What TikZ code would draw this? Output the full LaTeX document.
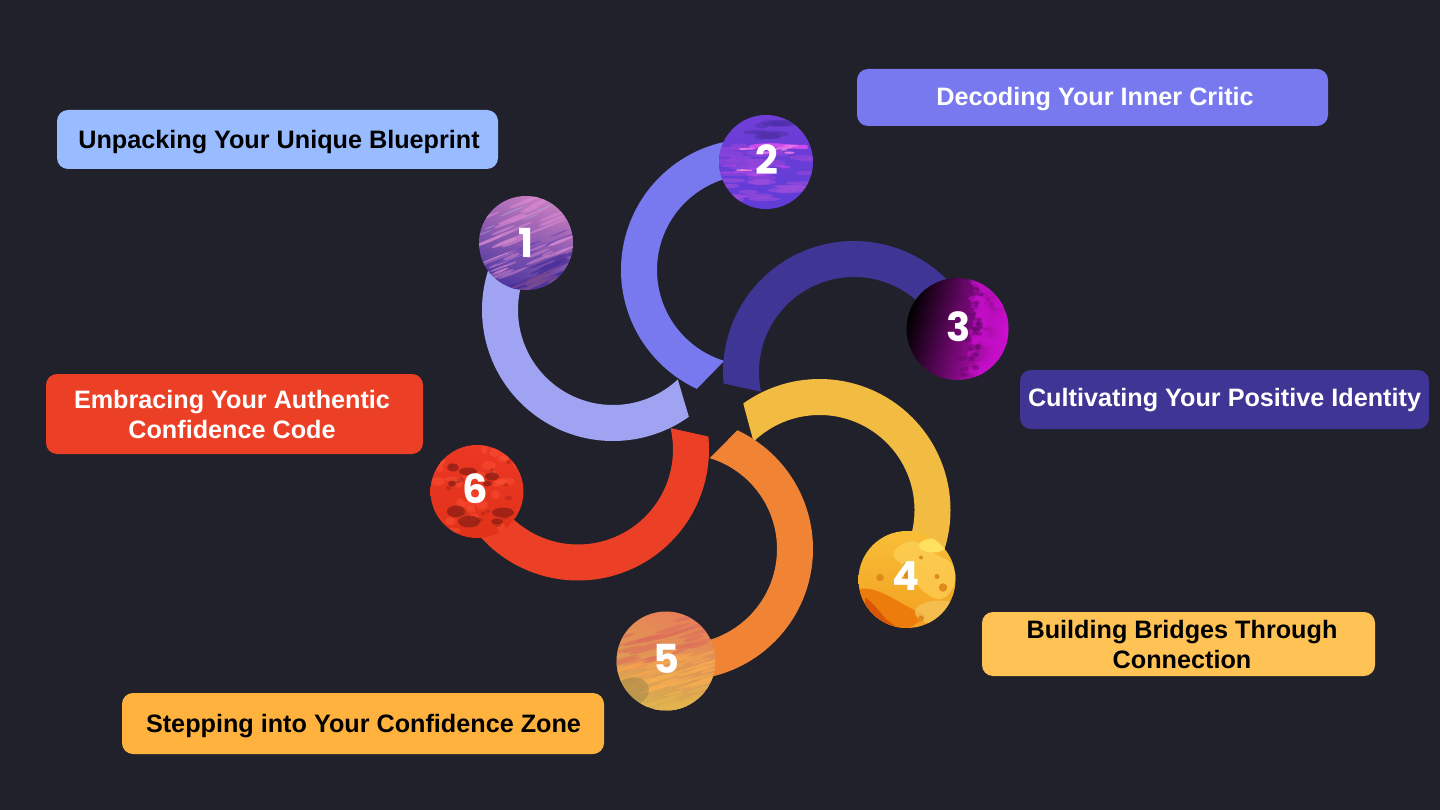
\documentclass[tikz,border=0pt]{standalone}
\usepackage{fontspec}
\setmainfont{Liberation Sans}
\newfontfamily\digitfont{Poppins}[UprightFont=* SemiBold,BoldFont=* Bold]
\definecolor{bgdark}{HTML}{20212B}
\definecolor{cA}{HTML}{A0A3F2}
\definecolor{cB}{HTML}{7879EE}
\definecolor{cC}{HTML}{3F3594}
\definecolor{cD}{HTML}{F2BB41}
\definecolor{cE}{HTML}{F18434}
\definecolor{cF}{HTML}{EB4026}
\definecolor{lA}{HTML}{99BBFF}
\definecolor{lD}{HTML}{FFC355}
\definecolor{lE}{HTML}{FFB33E}
% planet 1
\definecolor{aT}{HTML}{C77CC0}\definecolor{aM}{HTML}{B873BC}\definecolor{aB}{HTML}{4E37A0}
\definecolor{aS}{HTML}{D98AD0}\definecolor{aV}{HTML}{6A48B5}\definecolor{aD}{HTML}{4A2F9A}
\definecolor{aE}{HTML}{7A4A90}\definecolor{aG}{HTML}{A8A0C8}
% planet 2
\definecolor{bT}{HTML}{703ED6}\definecolor{bB}{HTML}{603CD7}\definecolor{bD}{HTML}{4E2FA8}
\definecolor{bP}{HTML}{CD4BEB}\definecolor{bQ}{HTML}{EB78EB}\definecolor{bM}{HTML}{9646DC}
\definecolor{bR}{HTML}{EB8CD7}\definecolor{bL}{HTML}{A550DC}
% planet 3
\definecolor{dM}{HTML}{140014}\definecolor{dR}{HTML}{D810D8}\definecolor{dS}{HTML}{C40EC8}\definecolor{dK}{HTML}{6A0870}
% planet 4
\definecolor{fT}{HTML}{F8BE37}\definecolor{fB}{HTML}{F2A020}\definecolor{fL}{HTML}{FFD75F}
\definecolor{fY}{HTML}{FFE15F}\definecolor{fO}{HTML}{EC7C0C}\definecolor{fD}{HTML}{D75505}
\definecolor{fP}{HTML}{F5C860}\definecolor{fS}{HTML}{E08A1C}
% planet 5
\definecolor{gT}{HTML}{E88058}\definecolor{gM}{HTML}{F09A4A}\definecolor{gB}{HTML}{D8AE50}
\definecolor{gA}{HTML}{DE6E5C}\definecolor{gC}{HTML}{F5A650}\definecolor{gD}{HTML}{FAB050}
\definecolor{gE}{HTML}{E4B44E}\definecolor{gF}{HTML}{8E7A48}
% planet 6
\definecolor{hT}{HTML}{EB3723}\definecolor{hB}{HTML}{E13219}\definecolor{hD}{HTML}{8C1E14}\definecolor{hL}{HTML}{FF5537}
\newcommand{\ringarc}[6]{%
  \fill[#6] plot[domain=#3:#5,samples=130] ({#1+95*cos(\x)},{#2+95*sin(\x)})
    -- plot[domain=#5:#4,samples=130] ({#1+131*cos(\x)},{#2+131*sin(\x)}) -- cycle;}
% count, rotation, max x radius, y radius, colour, opacity, band centre, band half height, half width
\newcommand{\specks}[9]{%
  \begin{scope}[rotate=#2]
  \foreach \i in {1,...,#1}{%
    \pgfmathsetmacro\spx{#9*rand}%
    \pgfmathsetmacro\spy{#7+#8*rand}%
    \pgfmathsetmacro\srx{#3*(.4+.6*rnd)}%
    \pgfmathsetmacro\sry{#4*(.5+.5*rnd)}%
    \fill[#5,opacity=#6] (\spx,\spy) ellipse [x radius=\srx,y radius=\sry];}
  \end{scope}}
\tikzset{
  lab/.style={rounded corners=11pt,inner sep=0pt},
  labtext/.style={align=center,inner sep=0pt,font=\bfseries\fontsize{25.2}{30}\selectfont},
  planet/.style={circle,inner sep=0pt,draw=none},
  numeral/.style={text=white,font=\digitfont\bfseries\fontsize{40}{40}\selectfont,inner sep=0pt}
}
\begin{document}
\begin{tikzpicture}[x=1pt,y=-1pt]
\pgfmathsetseed{4711}
\useasboundingbox (0,0) rectangle (1440,810);
\fill[bgdark] (0,0) rectangle (1440,810);

% rings
\ringarc{613}{310}{47}{54.6}{205}{cA}
\ringarc{752}{270}{107}{114.9}{280}{cB}
\ringarc{854}{372}{168}{175}{330}{cC}
\ringarc{819.5}{510}{226}{234.4}{385}{cD}
\ringarc{682}{549}{287}{295}{440}{cE}
\ringarc{578}{449.5}{-13}{-5.7}{150}{cF}

% planet 1
\node[planet,minimum size=94pt,shading=axis,top color=aT,middle color=aM,bottom color=aB,shading angle=-20] (p1) at (526,243) {};
\begin{scope}[shift={(p1)}]
\clip (0,0) circle (47);
\specks{26}{22}{22}{1.8}{aS}{.6}{-14}{28}{40}
\specks{5}{22}{14}{.8}{aG}{.7}{-30}{8}{40}
\specks{12}{22}{18}{1.2}{aV}{.7}{12}{9}{38}
\specks{14}{22}{16}{1.8}{aS}{.5}{15}{9}{36}
\specks{24}{22}{24}{2.2}{aD}{.7}{34}{12}{40}
\specks{14}{22}{20}{1.8}{aE}{.7}{40}{8}{40}
\end{scope}
\node[numeral] (n1) at (526.5,243) {1};

% planet 2
\node[planet,minimum size=94pt,top color=bT,bottom color=bB] (p2) at (766,162) {};
\begin{scope}[shift={(p2)}]
\clip (0,0) circle (47);
\specks{12}{0}{16}{3}{bD}{.5}{-32}{8}{24}
\specks{24}{0}{20}{3.5}{bM}{.6}{0}{16}{42}
\specks{16}{0}{18}{3}{bL}{.55}{30}{12}{36}
\draw[line width=4pt,line cap=round,draw=bP] (-15,-15) .. controls (5,-19) and (20,-15) .. (40,-15);
\specks{8}{0}{9}{1.2}{bQ}{.9}{-13}{4}{28}
\specks{5}{0}{7}{1.2}{bR}{.9}{8}{2}{30}
\specks{8}{0}{12}{1.5}{bP}{.5}{8}{6}{40}
\end{scope}
\node[numeral] (n2) at (767,159.5) {2};

% planet 3
\node[planet,minimum size=102pt,shading=axis,left color=black,middle color=dM,right color=dR,shading angle=75] (p3) at (957.5,329) {};
\begin{scope}[shift={(p3)}]
\clip (0,0) circle (51);
\begin{scope}[xshift=33pt]
\specks{110}{0}{7}{5}{dS}{.55}{0}{50}{19}
\end{scope}
\begin{scope}[xshift=12pt]
\specks{70}{0}{4}{3}{dK}{.5}{0}{48}{11}
\end{scope}
\end{scope}
\node[numeral] (n3) at (958.5,327) {3};

% planet 4
\node[planet,minimum size=97pt,top color=fT,bottom color=fB] (p4) at (907,579.5) {};
\begin{scope}[shift={(p4)}]
\clip (0,0) circle (48.5);
\fill[fL,opacity=.6] (-12,-30) .. controls (10,-50) and (20,-28) .. (35,-22) .. controls (55,-15) and (50,10) .. (38,18) .. controls (25,25) and (8,5) .. (0,-10) .. controls (-5,-18) and (-18,-20) .. cycle;
\fill[fY] (26,-34) ellipse [x radius=14,y radius=7];
\fill[fO] (-50,10) .. controls (-30,5) and (-12,22) .. (18,36) .. controls (15,42) and (5,45) .. (0,52) -- (-50,52) -- cycle;
\fill[fD] (-42,18) .. controls (-30,25) and (-25,40) .. (-12,46) -- (-42,46) -- cycle;
\fill[fP,opacity=.7] (32,33) ellipse [x radius=24,y radius=12];
\foreach \ex/\ey/\rr in {-27/-2/3.8,36/8/4.2,-1/-14/3,30/-3/2.5,14/-22/2,2/-4/5,14/39/3}{
  \fill[fS] (\ex,\ey) circle (\rr);}
\end{scope}
\node[numeral] (n4) at (906.5,576) {4};

% planet 5
\node[planet,minimum size=99pt,shading=axis,top color=gT,middle color=gM,bottom color=gB,shading angle=-15] (p5) at (666,661) {};
\begin{scope}[shift={(p5)}]
\clip (0,0) circle (49.5);
\specks{30}{16}{24}{2.2}{gA}{.6}{-20}{18}{42}
\specks{28}{16}{22}{1.8}{gC}{.6}{8}{16}{42}
\specks{24}{16}{22}{1.8}{gD}{.6}{24}{12}{42}
\specks{24}{16}{24}{2.2}{gE}{.65}{44}{8}{42}
\fill[gF,opacity=.4,rotate=16] (-42,20) ellipse [x radius=18,y radius=14];
\end{scope}
\node[numeral] (n5) at (666.5,659) {5};

% planet 6
\node[planet,minimum size=93pt,top color=hT,bottom color=hB] (p6) at (477,491.5) {};
\begin{scope}[shift={(p6)}]
\clip (0,0) circle (46.5);
\specks{30}{0}{8}{5}{hL}{.45}{0}{42}{42}
\foreach \ex/\ey/\rx/\ry in {-24/-24/6/4,-9/-20/9/4,15/-15/7/4,-21/20/9/6,-8/30/11/6,26/21/11/5,-25/-8/4/3,20/30/6/3,10/-8/4/3}{
  \fill[hD,opacity=.75] (\ex,\ey) ellipse [x radius=\rx,y radius=\ry];}
\specks{18}{0}{4}{2.5}{hD}{.35}{2}{32}{32}
\end{scope}
\node[numeral] (n6) at (475,489) {6};

% labels
\node[lab,fill=lA,minimum width=441pt,minimum height=59pt] (b1) at (277.5,139.5) {};
\node[labtext,text=black] (t1) at (279,142.5) {Unpacking Your Unique Blueprint};
\node[lab,fill=cB,minimum width=471pt,minimum height=57pt] (b2) at (1092.5,97.5) {};
\node[labtext,text=white] (t2) at (1095,99) {Decoding Your Inner Critic};
\node[lab,fill=cC,minimum width=409pt,minimum height=59pt] (b3) at (1224.5,399.5) {};
\node[labtext,text=white] (t3) at (1224.5,400) {Cultivating Your Positive Identity};
\node[lab,fill=lD,minimum width=393pt,minimum height=64pt] (b4) at (1178.5,644) {};
\node[labtext,text=black] (t4) at (1182,644) {Building Bridges Through\\Connection};
\node[lab,fill=lE,minimum width=482pt,minimum height=61pt] (b5) at (363,723.5) {};
\node[labtext,text=black] (t5) at (363.5,726) {Stepping into Your Confidence Zone};
\node[lab,fill=cF,minimum width=377pt,minimum height=80pt] (b6) at (234.5,414) {};
\node[labtext,text=white] (t6) at (232,414.5) {Embracing Your Authentic\\Confidence Code};
\end{tikzpicture}
\end{document}
